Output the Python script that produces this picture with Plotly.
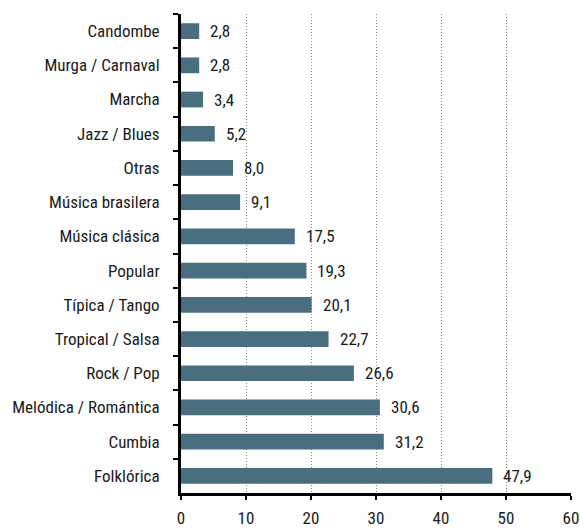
import plotly.graph_objects as go

genres = [
    "Candombe", "Murga / Carnaval", "Marcha", "Jazz / Blues", "Otras",
    "Música brasilera", "Música clásica", "Popular", "Típica / Tango",
    "Tropical / Salsa", "Rock / Pop", "Melódica / Romántica", "Cumbia", "Folklórica",
]
values = [2.8, 2.8, 3.4, 5.2, 8.0, 9.1, 17.5, 19.3, 20.1, 22.7, 26.6, 30.6, 31.2, 47.9]
labels = [f"{v:.1f}".replace(".", ",") for v in values]
x_ticks = [0, 10, 20, 30, 40, 50, 60]

FONT = "Roboto Condensed, Arial Narrow, sans-serif"
BAR = "#486e80"
INK = "#1a1a1a"

fig = go.Figure(go.Bar(
    x=values,
    y=genres,
    orientation="h",
    width=0.46,
    marker=dict(color=BAR, line=dict(width=0)),
    hoverinfo="x+y",
))

# value labels to the right of each bar
for g, v, t in zip(genres, values, labels):
    fig.add_annotation(
        x=v, y=g, text=t, showarrow=False,
        xanchor="left", yanchor="middle", xshift=9,
        font=dict(family=FONT, size=17, color=INK),
    )

fig.update_layout(
    width=580, height=528,
    margin=dict(l=181, r=9, t=14, b=35),
    paper_bgcolor="white", plot_bgcolor="white",
    showlegend=False,
    font=dict(family=FONT, size=17, color=INK),
    xaxis=dict(
        range=[0, 60],
        tickvals=x_ticks,
        ticktext=[str(t) for t in x_ticks],
        showgrid=True, gridcolor="#8a8a8a", griddash="1px,2px", gridwidth=1,
        zeroline=False,
        showline=True, linecolor="black", linewidth=2.5,
        ticks="outside", ticklen=4, tickcolor="black", tickwidth=1.5,
        ticklabelstandoff=4,
        ticklabeloverflow="allow",
        automargin=False,
        tickfont=dict(family=FONT, size=17, color=INK),
        fixedrange=True,
    ),
    yaxis=dict(
        categoryorder="array",
        categoryarray=genres,
        autorange="reversed",
        showgrid=False,
        showline=True, linecolor="black", linewidth=3,
        ticks="outside", tickson="boundaries", ticklen=5, tickcolor="black", tickwidth=1.5,
        ticklabelstandoff=15,
        automargin=False,
        tickfont=dict(family=FONT, size=17, color=INK),
        fixedrange=True,
    ),
)

fig.write_html("out.html")
